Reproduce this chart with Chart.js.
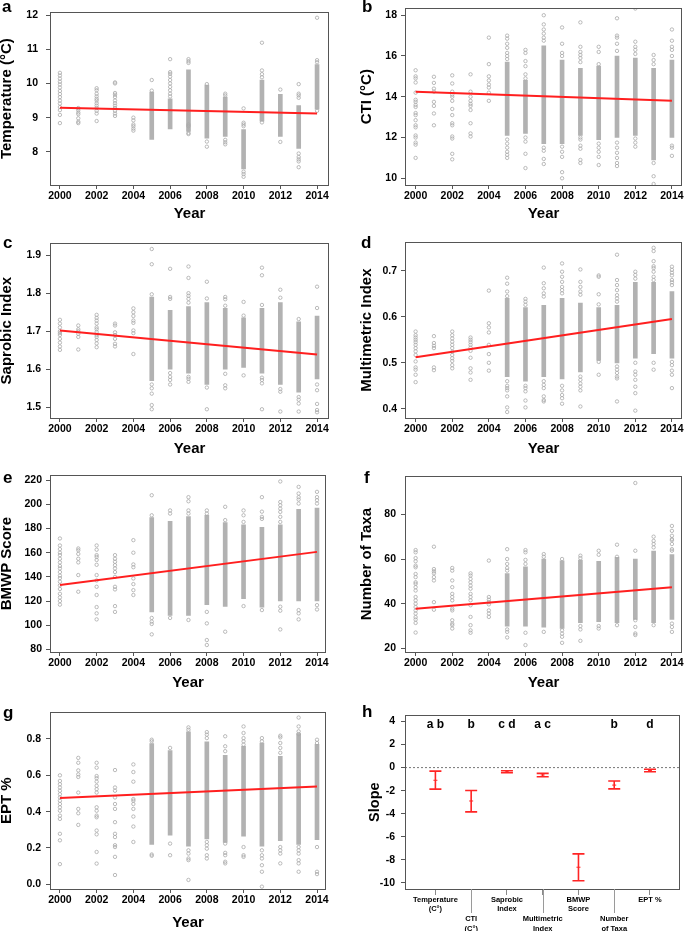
<!DOCTYPE html>
<html>
<head>
<meta charset="utf-8">
<script src="https://cdn.jsdelivr.net/npm/chart.js@4.4.1/dist/chart.umd.min.js"></script>
<style>
  html, body { margin: 0; padding: 0; background: #fff; overflow: hidden; }
  body { position: relative; width: 685px; height: 931px; }
  .tag { position: absolute; font: bold 17px "Liberation Sans", Arial, sans-serif; line-height: 17px; color: #000; }
</style>
</head>
<body>
<script>
// ---- data ----
const years = [2000, 2001, 2002, 2003, 2004, 2005, 2006, 2007, 2008, 2009, 2010, 2011, 2012, 2013, 2014];
const yearTicks = [2000, 2002, 2004, 2006, 2008, 2010, 2012, 2014];

// dense runs of overlapping sites per year, [low, high]
const tempDense = [null, null, null, null, null, [8.36, 9.75], [8.67, 9.55], [8.6, 10.4], [8.4, 9.95], [8.45, 9.6], [7.5, 8.65], [8.9, 10.1], [8.45, 9.68], [8.1, 9.35], [9.25, 10.55]];
const tempPts = [
  [10.31, 10.23, 10.14, 10.05, 9.97, 9.88, 9.78, 9.69, 9.6, 9.5, 9.41, 9.31, 9.22, 9.08, 8.84],
  [9.28, 9.22, 9.15, 9.1, 8.98, 8.88, 8.84],
  [9.86, 9.8, 9.7, 9.62, 9.55, 9.5, 9.42, 9.35, 9.28, 9.2, 9.12, 8.9],
  [10.03, 10.0, 9.72, 9.67, 9.6, 9.5, 9.42, 9.35, 9.28, 9.2, 9.12, 9.05],
  [9.0, 8.92, 8.8, 8.75, 8.68, 8.62],
  [10.1, 9.79],
  [10.71, 10.33, 10.28, 10.2, 10.1, 10.0, 9.9, 9.8, 9.7, 9.62],
  [10.71, 10.65, 10.6, 8.55, 8.52, 8.75, 8.8],
  [9.98, 8.3, 8.15],
  [9.7, 9.65, 8.35, 8.28, 8.22],
  [9.27, 8.85, 8.8, 8.75, 7.42, 7.35, 7.27],
  [11.19, 10.38, 10.27, 10.18, 8.86],
  [9.82, 8.29],
  [9.98, 9.7, 9.65, 9.58, 7.95, 7.85, 7.78, 7.72, 7.55],
  [11.92, 10.68, 10.62, 9.2]
];
const tempFit = [9.29, 9.12];
const tempTicks = [8, 9, 10, 11, 12];

const ctiDense = [null, null, null, null, null, [12.1, 15.7], [12.2, 14.8], [11.7, 16.5], [11.7, 15.8], [12.1, 15.4], [11.9, 15.5], [12.0, 16.0], [12.1, 15.9], [10.9, 15.4], [12.0, 15.8]];
const ctiPts = [
  [15.3, 15.0, 14.9, 14.7, 14.2, 13.85, 13.75, 13.6, 13.5, 13.2, 13.1, 12.85, 12.6, 12.5, 12.1, 12.0, 11.75, 11.65, 11.0],
  [14.98, 14.68, 14.4, 14.25, 13.75, 13.55, 13.18, 12.6],
  [15.05, 14.65, 14.25, 14.1, 14.0, 13.8, 13.4, 13.1, 12.7, 12.6, 12.05, 11.95, 11.2, 10.93],
  [15.1, 14.25, 14.0, 13.8, 13.65, 13.55, 13.35, 12.7, 12.2, 12.05],
  [16.9, 15.6, 15.0, 14.8, 14.6, 14.45, 14.2, 13.8],
  [17.0, 16.85, 16.6, 16.4, 16.15, 16.0, 15.85, 11.9, 11.7, 11.5, 11.3, 11.15, 11.0],
  [16.3, 16.15, 15.75, 15.5, 15.1, 14.9, 12.0, 11.8, 11.2, 10.5],
  [18.0, 17.55, 17.3, 17.1, 16.9, 16.75, 11.5, 11.35, 10.95, 10.7],
  [17.4, 16.6, 16.15, 16.0, 11.55, 11.3, 11.05, 10.3, 10.0],
  [17.65, 16.45, 16.2, 16.05, 15.9, 15.7, 12.0, 11.9, 11.6, 11.45, 10.9, 10.75],
  [16.45, 16.2, 15.6, 11.7, 11.5, 11.3, 11.05, 10.65],
  [17.85, 17.0, 16.9, 16.6, 16.25, 11.75, 11.5, 11.25, 11.0, 10.75, 10.6],
  [18.33, 16.7, 16.45, 16.3, 16.1, 11.95, 11.75, 11.55],
  [16.05, 15.8, 15.6, 10.75, 10.1, 9.72],
  [17.3, 16.75, 16.45, 16.3, 16.0, 11.6, 11.5, 11.1]
];
const ctiFit = [14.24, 13.8];
const ctiTicks = [10, 12, 14, 16, 18];

const sapDense = [null, null, null, null, null, [1.57, 1.79], [1.6, 1.755], [1.59, 1.765], [1.56, 1.775], [1.6, 1.76], [1.605, 1.735], [1.59, 1.76], [1.56, 1.775], [1.54, 1.725], [1.575, 1.74]];
const sapPts = [
  [1.73, 1.72, 1.71, 1.7, 1.695, 1.69, 1.68, 1.67, 1.66, 1.651],
  [1.715, 1.705, 1.7, 1.693, 1.685, 1.652],
  [1.743, 1.735, 1.728, 1.72, 1.71, 1.705, 1.698, 1.69, 1.685, 1.677, 1.668, 1.658],
  [1.72, 1.715, 1.697, 1.69, 1.68, 1.667, 1.66],
  [1.76, 1.75, 1.74, 1.728, 1.722, 1.702, 1.695, 1.64],
  [1.916, 1.876, 1.797, 1.56, 1.55, 1.536, 1.506, 1.495],
  [1.864, 1.79, 1.785, 1.59, 1.58, 1.572, 1.56],
  [1.87, 1.84, 1.8, 1.793, 1.785, 1.775, 1.58, 1.575, 1.567],
  [1.83, 1.786, 1.552, 1.495],
  [1.79, 1.784, 1.767, 1.588, 1.558, 1.55],
  [1.777, 1.741, 1.584],
  [1.867, 1.847, 1.769, 1.578, 1.572, 1.563, 1.495],
  [1.809, 1.788, 1.548, 1.541, 1.489],
  [1.732, 1.527, 1.52, 1.51, 1.489],
  [1.817, 1.761, 1.56, 1.545, 1.509, 1.493, 1.487]
];
const sapFit = [1.702, 1.639];
const sapTicks = [1.5, 1.6, 1.7, 1.8, 1.9];

const mmiDense = [null, null, null, null, null, [0.47, 0.64], [0.46, 0.62], [0.47, 0.625], [0.465, 0.64], [0.48, 0.63], [0.505, 0.62], [0.5, 0.625], [0.51, 0.675], [0.52, 0.675], [0.51, 0.655]];
const mmiPts = [
  [0.568, 0.56, 0.555, 0.55, 0.545, 0.539, 0.532, 0.525, 0.517, 0.503, 0.49, 0.485, 0.474, 0.458],
  [0.558, 0.543, 0.537, 0.532, 0.49, 0.484],
  [0.568, 0.56, 0.553, 0.546, 0.539, 0.532, 0.524, 0.517, 0.51, 0.504, 0.495, 0.488],
  [0.555, 0.55, 0.545, 0.539, 0.533, 0.526, 0.511, 0.488, 0.479, 0.463],
  [0.657, 0.586, 0.577, 0.566, 0.539, 0.519, 0.5, 0.483],
  [0.685, 0.672, 0.655, 0.645, 0.46, 0.45, 0.445, 0.44, 0.427, 0.403, 0.393],
  [0.639, 0.633, 0.626, 0.45, 0.445, 0.438, 0.418, 0.403],
  [0.707, 0.673, 0.662, 0.651, 0.644, 0.46, 0.452, 0.445, 0.427, 0.419, 0.416],
  [0.716, 0.698, 0.687, 0.676, 0.665, 0.658, 0.651, 0.45, 0.44, 0.43, 0.423, 0.411],
  [0.703, 0.676, 0.665, 0.655, 0.648, 0.47, 0.463, 0.455, 0.448, 0.44, 0.405],
  [0.69, 0.687, 0.649, 0.627, 0.502, 0.474],
  [0.735, 0.68, 0.669, 0.658, 0.647, 0.64, 0.633, 0.492, 0.485, 0.478, 0.47, 0.466, 0.416],
  [0.698, 0.691, 0.683, 0.5, 0.481, 0.474, 0.463, 0.448, 0.434, 0.396],
  [0.75, 0.743, 0.721, 0.71, 0.706, 0.698, 0.687, 0.68, 0.5, 0.485],
  [0.709, 0.702, 0.696, 0.69, 0.68, 0.675, 0.669, 0.502, 0.495, 0.483, 0.474, 0.445]
];
const mmiFit = [0.512, 0.595];
const mmiTicks = [0.4, 0.5, 0.6, 0.7];

const bmwpDense = [null, null, null, null, null, [111, 189], [108, 186], [108, 190], [117, 191], [115.5, 185], [122, 183], [115, 181], [120, 183], [120, 196], [120, 197]];
const bmwpPts = [
  [171.8, 166, 163, 160, 158, 155, 152, 149, 147, 144, 141, 139, 136, 133, 130, 126, 123, 120, 117],
  [163.5, 162, 159, 155, 152, 141.5, 127.7],
  [166, 162.5, 158, 156.5, 154, 150, 141.5, 137, 131.8, 125, 115, 109.8, 104.8],
  [158, 155, 152.5, 149.7, 147, 144, 140, 131.8, 129.6, 115.8, 111],
  [170.4, 160, 150.3, 148, 138.7, 134, 129, 125],
  [207.6, 191, 106, 103, 101, 92.4],
  [195, 192.4, 106],
  [206, 202.6, 195, 192.4, 104.3],
  [195, 192.4, 111, 101.5, 87.7, 83.6],
  [198, 187, 94.6],
  [195, 191, 185.5, 115.8],
  [206, 194, 189.7, 188, 112.5],
  [219, 202, 199.3, 196.5, 193.8, 189.7, 185.5, 115.3, 112, 96.5],
  [214.5, 209, 206, 204, 200.7, 112.5, 109.8, 104.8],
  [210.4, 206, 203.5, 200.7, 116.6, 113]
];
const bmwpFit = [133.2, 160.7];
const bmwpTicks = [80, 100, 120, 140, 160, 180, 200, 220];

const taxaDense = [null, null, null, null, null, [30, 53.5], [30, 56.5], [29.5, 60], [29, 59.2], [31.5, 59.5], [32, 59], [31.5, 60.7], [33, 60], [31.5, 63.5], [33, 62]];
const taxaPts = [
  [64, 63, 60.4, 59, 57, 56.3, 53.3, 51.9, 49.6, 48.9, 47.4, 45.9, 43, 41.5, 40, 38.5, 37, 35.6, 34, 32.9, 31.4, 27.1],
  [65.5, 55.5, 54.5, 53.6, 51.9, 50.4, 40.7, 37.3],
  [56, 54.8, 50.4, 47.4, 44.4, 43, 41.5, 37.8, 37, 32.6, 31.1, 30.4, 28.9],
  [53.6, 52.6, 51.1, 49.6, 48.1, 46.7, 44.4, 43, 41.5, 39.3, 34.1, 30.4, 28.1, 27],
  [59.3, 43, 41.8, 40.7, 39.7, 37, 35.6, 34.1],
  [64.4, 60, 57.8, 56, 54.8, 28.5, 27.4, 24.9],
  [64, 63, 59.6, 57.8, 27, 21.5],
  [62.2, 61, 27.4],
  [60, 28.1, 26.6, 25.2, 22.5],
  [61.5, 60.4, 30, 28.5, 23.4],
  [63.7, 61.9, 30, 28.9],
  [66.4, 61, 30.4],
  [94, 63.7, 32.6, 29.6, 26.7, 26],
  [70, 68.1, 66.7, 65.2, 30.4],
  [74.8, 72.6, 70.4, 68.9, 68.4, 66.7, 64.4, 63.7, 31.1, 29.6, 27.4]
];
const taxaFit = [37.8, 47.4];
const taxaTicks = [20, 40, 60, 80];

const eptDense = [null, null, null, null, null, [0.22, 0.775], [0.27, 0.736], [0.21, 0.84], [0.25, 0.785], [0.23, 0.71], [0.265, 0.76], [0.21, 0.778], [0.24, 0.705], [0.22, 0.83], [0.245, 0.77]];
const eptPts = [
  [0.6, 0.569, 0.551, 0.533, 0.515, 0.496, 0.478, 0.46, 0.442, 0.424, 0.405, 0.378, 0.36, 0.278, 0.242, 0.111],
  [0.696, 0.669, 0.627, 0.605, 0.591, 0.505, 0.415, 0.391, 0.327],
  [0.669, 0.642, 0.596, 0.584, 0.565, 0.542, 0.524, 0.505, 0.424, 0.405, 0.378, 0.369, 0.296, 0.275, 0.178, 0.114],
  [0.629, 0.533, 0.515, 0.478, 0.442, 0.415, 0.342, 0.278, 0.26, 0.215, 0.205, 0.151, 0.051],
  [0.66, 0.618, 0.565, 0.469, 0.46, 0.442, 0.415, 0.373, 0.318, 0.233],
  [0.796, 0.787, 0.164, 0.157],
  [0.751, 0.224, 0.16],
  [0.864, 0.851, 0.187, 0.169, 0.142, 0.133, 0.024],
  [0.838, 0.824, 0.805, 0.233, 0.215, 0.196, 0.16, 0.142],
  [0.815, 0.76, 0.733, 0.224, 0.173, 0.16, 0.124, 0.115],
  [0.869, 0.833, 0.805, 0.787, 0.769, 0.205, 0.16, 0.151],
  [0.805, 0.787, 0.187, 0.16, 0.142, 0.105, 0.069, -0.013],
  [0.818, 0.809, 0.778, 0.751, 0.724, 0.205, 0.187, 0.169, 0.115],
  [0.918, 0.869, 0.842, 0.827, 0.205, 0.187, 0.169, 0.133, 0.115, 0.069],
  [0.796, 0.778, 0.205, 0.069, 0.056]
];
const eptFit = [0.475, 0.538];
const eptTicks = [0.0, 0.2, 0.4, 0.6, 0.8];

// panel h: confidence intervals of the slopes
const slopeVars = [['Temperature', '(C°)'], ['CTI', '(C°)'], ['Saprobic', 'Index'], ['Multimetric', 'Index'], ['BMWP', 'Score'], ['Number', 'of Taxa'], ['EPT %']];
const slopeLow = [-1.87, -3.84, -0.45, -0.79, -9.83, -1.85, -0.36];
const slopeHigh = [-0.31, -1.99, -0.28, -0.5, -7.49, -1.16, -0.15];
const slopeMid = [-1.1, -2.9, -0.37, -0.64, -8.65, -1.52, -0.26];
const sigLetters = ['a b', 'b', 'c d', 'a c', '', 'b', 'd'];
const slopeTicks = [-10, -8, -6, -4, -2, 0, 2, 4];

// ---- layout ----
const FONT = '"Liberation Sans", Arial, sans-serif';
Chart.defaults.font.family = FONT;
Chart.defaults.color = '#000';

const frames = {
  a: {left: -2, top: -2, right: 342, bottom: 223, box: [50, 8, 329, 185], tag: [2, -2]},
  b: {left: 358, top: -2, right: 688, bottom: 223, box: [405, 8, 682, 185], tag: [362, -2]},
  c: {left: -2, top: 232, right: 342, bottom: 458, box: [50, 242, 329, 418], tag: [3, 234]},
  d: {left: 358, top: 232, right: 688, bottom: 458, box: [405, 242, 682, 418], tag: [361, 234]},
  e: {left: -2, top: 465, right: 342, bottom: 692, box: [50, 475, 326, 652], tag: [3, 469]},
  f: {left: 358, top: 465, right: 688, bottom: 692, box: [405, 475, 682, 652], tag: [364, 469]},
  g: {left: -2, top: 701, right: 342, bottom: 932, box: [50, 711, 326, 889], tag: [3, 704]},
  h: {left: 358, top: 703, right: 688, bottom: 931, box: [405, 713, 683, 889], tag: [362, 703]}
};

const boxPlugin = {
  id: 'box',
  afterDatasetsDraw(chart) {
    const {ctx, chartArea: a} = chart;
    ctx.save();
    ctx.strokeStyle = '#555';
    ctx.lineWidth = 1;
    ctx.strokeRect(Math.round(a.left) + 0.5, Math.round(a.top) + 0.5, Math.round(a.right - a.left) - 1, Math.round(a.bottom - a.top));
    ctx.restore();
  }
};

function makeCanvas(key) {
  const f = frames[key];
  const c = document.createElement('canvas');
  c.width = f.right - f.left;
  c.height = f.bottom - f.top;
  c.style.cssText = `position:absolute;left:${f.left}px;top:${f.top}px;width:${c.width}px;height:${c.height}px`;
  document.body.appendChild(c);
  const t = document.createElement('div');
  t.className = 'tag';
  t.textContent = key;
  t.style.left = f.tag[0] + 'px';
  t.style.top = f.tag[1] + 'px';
  document.body.appendChild(t);
  return c;
}

function layoutFor(f) {
  const [bl, bt, br, bb] = f.box;
  return {
    padding: {left: 0, top: bt - f.top, right: f.right - br, bottom: 0},
    yWidth: bl - f.left,
    xHeight: f.bottom - bb
  };
}

const tickFont = {size: 10.5, weight: 'bold'};
const titleFont = {size: 15, weight: 'bold'};

function yearPanel(p) {
  const f = frames[p.key];
  const lay = layoutFor(f);
  const pts = [];
  p.pts.forEach((arr, i) => arr.forEach(v => pts.push({x: years[i], y: v})));
  const dense = [];
  p.dense.forEach((r, i) => { if (r) dense.push({x: years[i], y: r}); });
  new Chart(makeCanvas(p.key), {
    type: 'scatter',
    data: {
      datasets: [
        {type: 'line', data: [{x: years[0], y: p.fit[0]}, {x: years[years.length - 1], y: p.fit[1]}],
         borderColor: '#ff1f1f', borderWidth: 2, pointRadius: 0, order: 0},
        {type: 'scatter', data: pts, pointRadius: 1.7, borderWidth: 0.8,
         borderColor: '#a9a9a9', backgroundColor: 'rgba(0,0,0,0)', order: 1},
        {type: 'bar', data: dense, barThickness: 4, backgroundColor: '#b2b2b2', borderWidth: 0, order: 2}
      ]
    },
    options: {
      responsive: false, animation: false, events: [],
      layout: {padding: lay.padding},
      plugins: {legend: {display: false}, tooltip: {enabled: false}},
      scales: {
        x: {
          type: 'linear', min: p.xr[0], max: p.xr[1], offset: false,
          afterBuildTicks: s => { s.ticks = yearTicks.map(v => ({value: v})); },
          afterFit: s => { s.height = lay.xHeight; },
          ticks: {font: tickFont, color: '#000', padding: 1, autoSkip: false, maxRotation: 0, callback: v => String(v)},
          grid: {drawOnChartArea: false, offset: false, tickLength: 4, color: '#555'},
          border: {display: false},
          title: {display: true, text: 'Year', font: titleFont, color: '#000', padding: {top: 0, bottom: 0}}
        },
        y: {
          type: 'linear', min: p.yr[0], max: p.yr[1],
          afterBuildTicks: s => { s.ticks = p.yTicks.map(v => ({value: v})); },
          afterFit: s => { s.width = lay.yWidth; },
          ticks: {font: tickFont, color: '#000', padding: p.ypad, callback: v => v.toFixed(p.dec)},
          grid: {drawOnChartArea: false, tickLength: 4, color: '#555'},
          border: {display: false},
          title: {display: true, text: p.title, font: titleFont, color: '#000', padding: {top: 0, bottom: 0}}
        }
      }
    },
    plugins: [boxPlugin]
  });
}

const leftX = [1999.46, 2014.65];
const leftX2 = [1999.46, 2014.49];
const rightX = [1999.42, 2014.55];

yearPanel({key: 'a', title: 'Temperature (°C)', dense: tempDense, pts: tempPts, fit: tempFit, yTicks: tempTicks, yr: [7.03, 12.08], dec: 0, xr: leftX, ypad: 8});
yearPanel({key: 'b', title: 'CTI (°C)', dense: ctiDense, pts: ctiPts, fit: ctiFit, yTicks: ctiTicks, yr: [9.67, 18.34], dec: 0, xr: rightX, ypad: 4});
yearPanel({key: 'c', title: 'Saprobic Index', dense: sapDense, pts: sapPts, fit: sapFit, yTicks: sapTicks, yr: [1.472, 1.931], dec: 1, xr: leftX, ypad: 5});
yearPanel({key: 'd', title: 'Multimetric Index', dense: mmiDense, pts: mmiPts, fit: mmiFit, yTicks: mmiTicks, yr: [0.380, 0.762], dec: 1, xr: rightX, ypad: 4});
yearPanel({key: 'e', title: 'BMWP Score', dense: bmwpDense, pts: bmwpPts, fit: bmwpFit, yTicks: bmwpTicks, yr: [77.8, 224.1], dec: 0, xr: leftX2, ypad: 4});
yearPanel({key: 'f', title: 'Number of Taxa', dense: taxaDense, pts: taxaPts, fit: taxaFit, yTicks: taxaTicks, yr: [18.4, 97], dec: 0, xr: rightX, ypad: 5});
yearPanel({key: 'g', title: 'EPT %', dense: eptDense, pts: eptPts, fit: eptFit, yTicks: eptTicks, yr: [-0.026, 0.947], dec: 1, xr: leftX2, ypad: 5});

// ---- panel h ----
(function () {
  const f = frames.h;
  const lay = layoutFor(f);
  const bars = [];
  slopeVars.forEach((_, i) => {
    bars.push({x: i, y: slopeHigh[i]}, {x: i, y: slopeLow[i]}, {x: i, y: null});
  });
  const mids = slopeMid.map((v, i) => ({x: i, y: v}));
  const xr = [-0.85, 6.85];

  const extras = {
    id: 'slopeExtras',
    afterDatasetsDraw(chart) {
      const {ctx, chartArea: a, scales: {x, y}} = chart;
      ctx.save();
      ctx.font = 'bold 12px ' + FONT;
      ctx.fillStyle = '#000';
      ctx.textAlign = 'center';
      ctx.textBaseline = 'middle';
      sigLetters.forEach((t, i) => ctx.fillText(t, x.getPixelForValue(i), y.getPixelForValue(3.75)));
      ctx.strokeStyle = '#9a9a9a';
      ctx.lineWidth = 1;
      slopeVars.forEach((_, i) => {
        if (i % 2) {
          const px = Math.round(x.getPixelForValue(i)) + 0.5;
          ctx.beginPath();
          ctx.moveTo(px, a.bottom);
          ctx.lineTo(px, a.bottom + 24);
          ctx.stroke();
        }
      });
      ctx.restore();
    }
  };

  new Chart(makeCanvas('h'), {
    type: 'scatter',
    data: {
      datasets: [
        {type: 'line', data: [{x: xr[0], y: 0}, {x: xr[1], y: 0}], borderColor: '#777', borderWidth: 1,
         borderDash: [2, 2], pointRadius: 0, order: 3},
        {type: 'line', data: bars, borderColor: '#ff2424', borderWidth: 1.6, spanGaps: false,
         pointStyle: 'line', pointRadius: 6, pointBorderWidth: 1.6, pointBorderColor: '#ff2424', order: 1},
        {type: 'scatter', data: mids, pointStyle: 'line', pointRadius: 2, borderWidth: 1,
         borderColor: '#ff2424', order: 0}
      ]
    },
    options: {
      responsive: false, animation: false, events: [],
      layout: {padding: lay.padding},
      plugins: {legend: {display: false}, tooltip: {enabled: false}},
      scales: {
        x: {
          type: 'linear', min: xr[0], max: xr[1],
          afterBuildTicks: s => { s.ticks = slopeVars.map((_, i) => ({value: i})); },
          afterFit: s => { s.height = lay.xHeight; },
          ticks: {font: {size: 7.5, weight: 'bold', lineHeight: 1.28}, color: '#000',
                  padding: 0, autoSkip: false, maxRotation: 0,
                  callback: (v, i) => (i % 2 ? ['', ''].concat(slopeVars[i]) : slopeVars[i])},
          grid: {drawOnChartArea: false, tickLength: 6, color: '#8a8a8a'},
          border: {display: false}
        },
        y: {
          type: 'linear', min: -10.54, max: 4.54,
          afterBuildTicks: s => { s.ticks = slopeTicks.map(v => ({value: v})); },
          afterFit: s => { s.width = lay.yWidth; },
          ticks: {font: tickFont, color: '#000', padding: 6, callback: v => String(v)},
          grid: {drawOnChartArea: false, tickLength: 4, color: '#555'},
          border: {display: false},
          title: {display: true, text: 'Slope', font: {size: 14.5, weight: 'bold'}, color: '#000', padding: {top: 8, bottom: 0}}
        }
      }
    },
    plugins: [boxPlugin, extras]
  });
})();
</script>
</body>
</html>
